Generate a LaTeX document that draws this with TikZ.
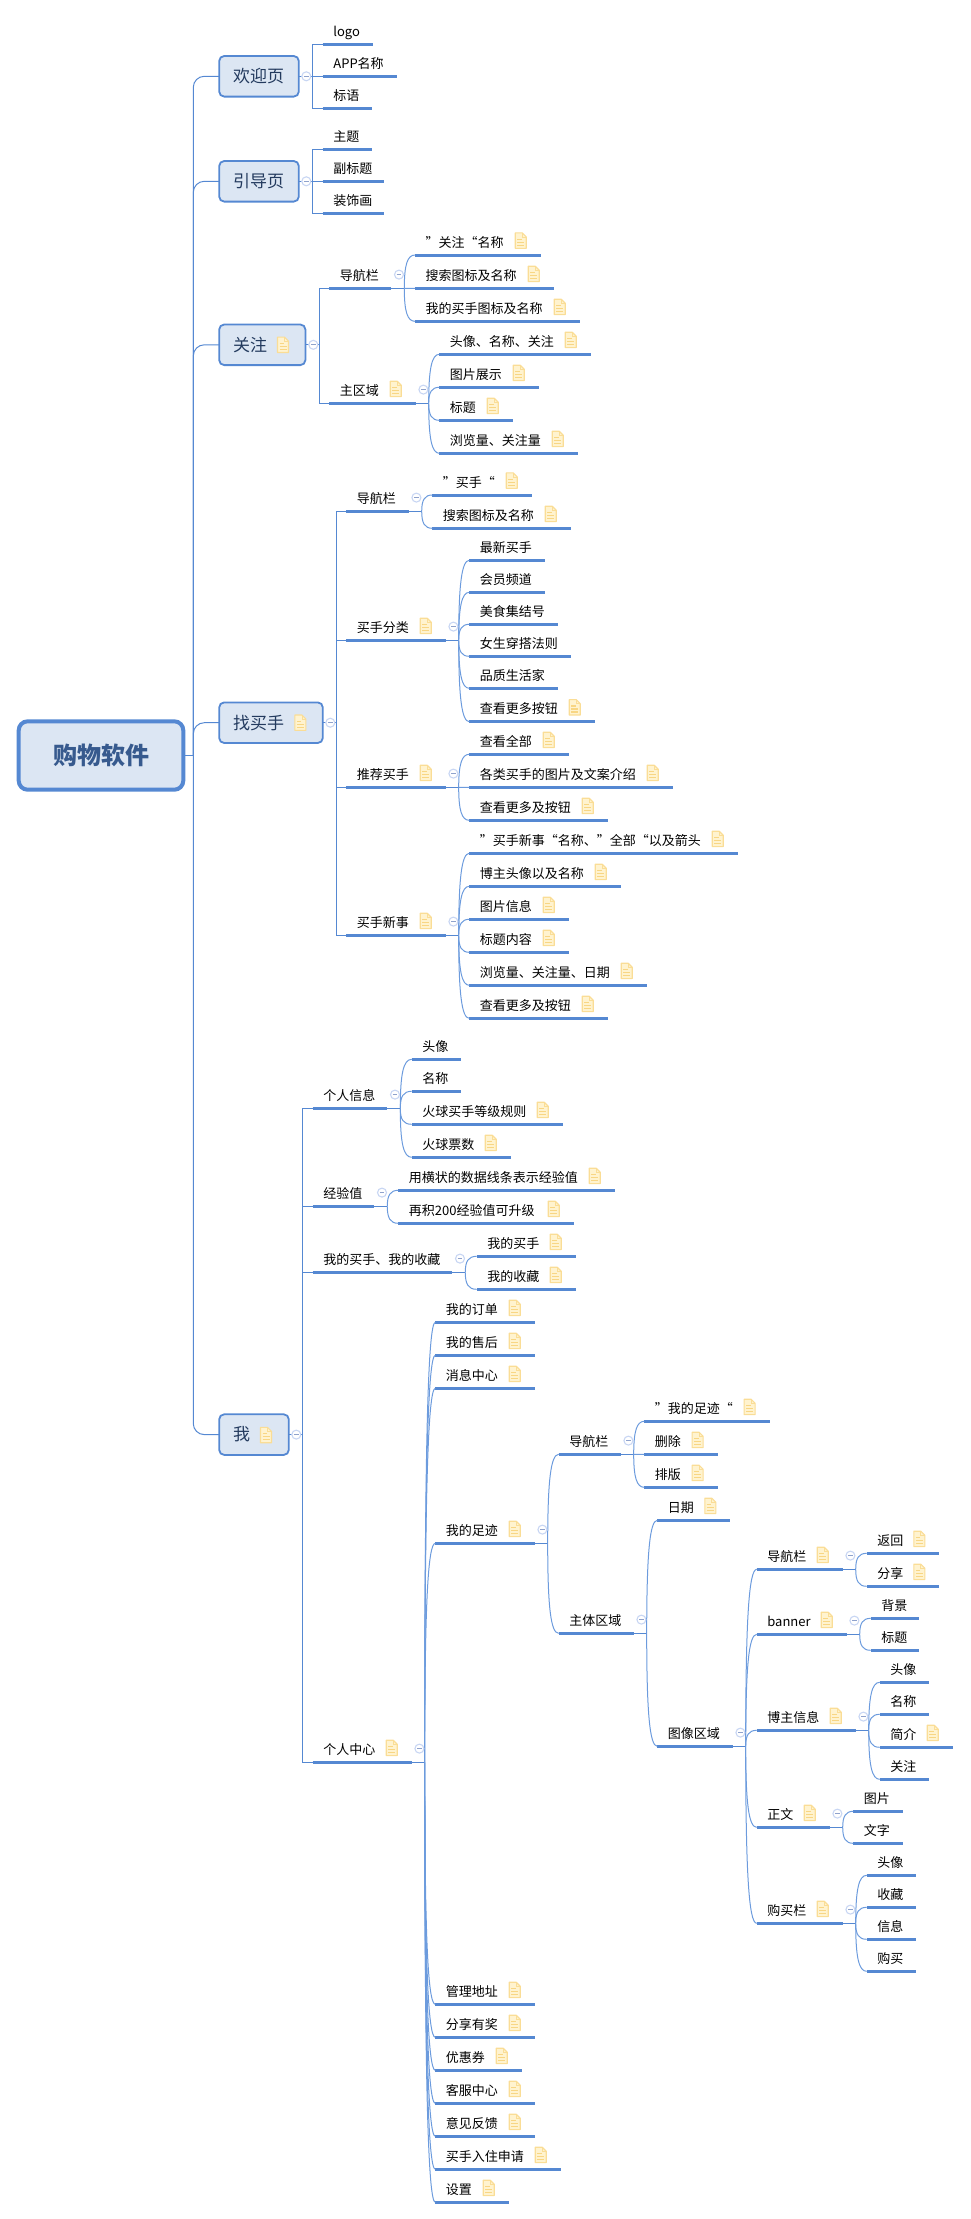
\documentclass[tikz,border=0pt]{standalone}
\usepackage{fontspec}
\setmainfont{Noto Sans CJK SC}
\usetikzlibrary{calc}
\definecolor{mmblue}{HTML}{5588D2}
\definecolor{mmthin}{HTML}{6C9BDD}
\definecolor{mmfill}{HTML}{DCE6F3}
\definecolor{mmroot}{HTML}{375A8E}
\definecolor{mmnavy}{HTML}{233A5E}
\definecolor{notefill}{HTML}{FFF3CF}
\definecolor{noteline}{HTML}{FADD96}
\definecolor{notebar}{HTML}{F8D684}
\definecolor{foldring}{HTML}{C8D6F3}
\definecolor{foldbar}{HTML}{8FA2CC}
\newcommand\ql{\makebox[13pt][l]{”}}
\newcommand\qr{\makebox[13pt][r]{“}}
\tikzset{
  topic/.style={anchor=south west,inner sep=0pt,outer sep=0pt,text height=12pt,text depth=8pt,font=\fontsize{13pt}{15pt}\selectfont,text=black},
  under/.style={draw=mmblue,line width=3pt},
  stem/.style={draw=mmblue,line width=.9pt},
  cv/.style={draw=mmthin,line width=1pt},
  elbow/.style={draw=mmblue,line width=1pt},
  trunk/.style={draw=mmblue,line width=1pt,rounded corners=11pt},
  lvone/.style={anchor=west,draw=mmblue,fill=mmfill,line width=1.8pt,rounded corners=5pt,inner sep=0pt,outer sep=0pt,minimum height=40.6pt,font=\fontsize{17pt}{20pt}\selectfont,text=mmnavy},
  rootnode/.style={draw=mmblue,fill=mmfill,line width=4pt,rounded corners=9pt,inner sep=0pt,outer sep=0pt,minimum width=164.6pt,minimum height=68.4pt,font=\fontsize{24pt}{28pt}\selectfont\bfseries,text=mmroot},
}
% a topic with its underline
\newcommand\Tp[5]{%
  \pgfmathsetlengthmacro\tpw{(#3-#2)*1pt}%
  \node[topic] (#1) at (#2,#4) {\makebox[\tpw][l]{\hspace{10.67pt}#5}};
  \draw[under] (#1.south west) -- (#1.south east);
}
% the note icon, its left end and vertical middle at the point given
\newcommand\NoteAt[1]{%
  \begin{scope}[shift={#1},x=1pt,y=-1pt]
    \draw[fill=notefill,draw=noteline,line width=1.1pt,line join=round] (0.5,-7.7) -- (7.5,-7.7) -- (11.5,-3.7) -- (11.5,7.7) -- (0.5,7.7) -- cycle;
    \draw[draw=noteline,line width=.8pt] (7.5,-7.7) -- (7.5,-3.7) -- (11.5,-3.7);
    \draw[draw=notebar,line width=1.3pt] (2.6,-1.2) -- (7,-1.2) (2.6,1.6) -- (9.5,1.6) (2.6,4.6) -- (9.5,4.6);
  \end{scope}}
\newcommand\TpN[5]{%
  \Tp{#1}{#2}{#3}{#4}{#5}%
  \NoteAt{([xshift=-26pt,yshift=14.4pt]#1.south east)}
}
% collapse mark
\newcommand\FoldAt[1]{%
  \begin{scope}[shift={#1},x=1pt,y=-1pt]
    \draw[fill=white,draw=foldring,line width=1.1pt] (0,0) circle (4.5pt);
    \draw[draw=foldbar,line width=.8pt] (-2.4,0) -- (2.4,0);
  \end{scope}}
\newcommand\Fk[1]{%
  \coordinate (#1-f) at ([xshift=13pt]#1.south east);
  \draw[stem] (#1.south east) -- (#1-f);
}
\newcommand\Fold[1]{\FoldAt{([xshift=7.7pt,yshift=13.7pt]#1.south east)}}
% curved branch
\newcommand\Kids[2]{%
  \Fk{#1}%
  \foreach \cc in {#2}{%
    \draw[cv] let \p1=(#1-f),\p2=(\cc.south west) in (\p1) .. controls ($(\p1)!0.7!(\x1,\y2)$) and (\x1+3pt,\y2) .. (\p2);
  }%
}
\newcommand\Elbows[2]{%
  \foreach \cc in {#2}{\draw[elbow] (#1-f) |- (\cc.south west);}%
}
\newcommand\LvBox[5]{% name, left, right, y, text
  \pgfmathsetlengthmacro\tpw{(#3-#2)*1pt}%
  \node[lvone,minimum width=\tpw] (#1) at (#2,#4) {\makebox[\tpw][l]{\hspace{14pt}#5}};
}
\begin{document}
\begin{tikzpicture}[x=1pt,y=-1pt]
\useasboundingbox (0,0) rectangle (970,2219);

\node[rootnode] (root) at (101,755.5) {购物软件};
\coordinate (rfork) at (193.3,755.5);
\LvBox{a}{219.2}{298.8}{76.3}{欢迎页}
\LvBox{b}{219.2}{298.8}{181.3}{引导页}
\LvBox{c}{219.2}{305.4}{344.8}{关注}
\NoteAt{(277,344.8)}
\LvBox{d}{219.2}{322.8}{722.7}{找买手}
\NoteAt{(294.4,722.7)}
\LvBox{e}{219.2}{288.8}{1434.6}{我}
\NoteAt{(260,1435)}
\draw[stem] (root.east) -- (rfork);
\foreach \cc in {a,b,c,d,e}{\draw[trunk] (rfork) |- (\cc.west);}

% --- 欢迎页
\coordinate (a-f) at (312.3,76.3);
\draw[stem] (a.east) -- (a-f);
\Tp{a1}{322.7}{373.3}{44.3}{logo}
\Tp{a2}{322.7}{396.7}{76.3}{APP名称}
\Tp{a3}{322.7}{372}{108.3}{标语}
\Elbows{a}{a1,a2,a3}
\FoldAt{(306.3,76.3)}

% --- 引导页
\coordinate (b-f) at (312.3,181.3);
\draw[stem] (b.east) -- (b-f);
\Tp{b1}{322.7}{372}{149.7}{主题}
\Tp{b2}{322.7}{384.3}{181.3}{副标题}
\Tp{b3}{322.7}{384.3}{213.3}{装饰画}
\Elbows{b}{b1,b2,b3}
\FoldAt{(306.3,181.3)}

% --- 关注
\coordinate (c-f) at (319.3,344.8);
\draw[stem] (c.east) -- (c-f);
\Tp{c1}{329.3}{391.3}{288.3}{导航栏}
\TpN{c2}{329.3}{415.7}{403.3}{主区域}
\Elbows{c}{c1,c2}
\FoldAt{(313.3,344.8)}
\TpN{c11}{415}{540.7}{255}{\ql 关注\qr 名称}
\TpN{c12}{415}{553.7}{288.3}{搜索图标及名称}
\TpN{c13}{415}{579.7}{321.3}{我的买手图标及名称}
\Kids{c1}{c11,c12,c13}
\Fold{c1}
\TpN{c21}{439.3}{590.7}{354.3}{头像、名称、关注}
\TpN{c22}{439.3}{538.7}{387.3}{图片展示}
\TpN{c23}{439.3}{512.7}{420.3}{标题}
\TpN{c24}{439.3}{577.7}{453.3}{浏览量、关注量}
\Kids{c2}{c21,c22,c23,c24}
\Fold{c2}

% --- 找买手
\coordinate (d-f) at (336.3,722.7);
\draw[stem] (d.east) -- (d-f);
\Tp{d1}{346.3}{408.7}{511.3}{导航栏}
\TpN{d2}{346.3}{445.7}{640.3}{买手分类}
\TpN{d3}{346.3}{445.7}{787.3}{推荐买手}
\TpN{d4}{346.3}{445.7}{935.3}{买手新事}
\Elbows{d}{d1,d2,d3,d4}
\FoldAt{(330.3,722.7)}
\TpN{d11}{432.3}{531.7}{495}{\ql 买手\qr}
\TpN{d12}{432.3}{570.7}{528.3}{搜索图标及名称}
\Kids{d1}{d11,d12}
\Fold{d1}
\Tp{d21}{469.3}{544.7}{560.3}{最新买手}
\Tp{d22}{469.3}{544.7}{592.3}{会员频道}
\Tp{d23}{469.3}{557.7}{624.3}{美食集结号}
\Tp{d24}{469.3}{570.7}{656.3}{女生穿搭法则}
\Tp{d25}{469.3}{557.7}{688.3}{品质生活家}
\TpN{d26}{469.3}{594.7}{721.7}{查看更多按钮}
\Kids{d2}{d21,d22,d23,d24,d25,d26}
\Fold{d2}
\TpN{d31}{469.3}{568.7}{754.3}{查看全部}
\TpN{d32}{469.3}{672.7}{787.3}{各类买手的图片及文案介绍}
\TpN{d33}{469.3}{607.7}{820.3}{查看更多及按钮}
\Kids{d3}{d31,d32,d33}
\Fold{d3}
\TpN{d41}{469.3}{737.7}{853.3}{\ql 买手新事\qr 名称、\ql 全部\qr 以及箭头}
\TpN{d42}{469.3}{620.7}{886.3}{博主头像以及名称}
\TpN{d43}{469.3}{568.7}{919.3}{图片信息}
\TpN{d44}{469.3}{568.7}{952.3}{标题内容}
\TpN{d45}{469.3}{646.7}{985.3}{浏览量、关注量、日期}
\TpN{d46}{469.3}{607.7}{1018.3}{查看更多及按钮}
\Kids{d4}{d41,d42,d43,d44,d45,d46}
\Fold{d4}

% --- 我
\coordinate (e-f) at (302.7,1434.6);
\draw[stem] (e.east) -- (e-f);
\Tp{e1}{312.7}{387.3}{1108.3}{个人信息}
\Tp{e2}{312.7}{374.3}{1206.3}{经验值}
\Tp{e3}{312.7}{452.3}{1272.3}{我的买手、我的收藏}
\TpN{e4}{312.7}{411.7}{1762.3}{个人中心}
\Elbows{e}{e1,e2,e3,e4}
\FoldAt{(296.3,1434.6)}
\Tp{e11}{411.7}{460.7}{1059.3}{头像}
\Tp{e12}{411.7}{460.7}{1091.3}{名称}
\TpN{e13}{411.7}{562.7}{1124.3}{火球买手等级规则}
\TpN{e14}{411.7}{510.7}{1157.3}{火球票数}
\Kids{e1}{e11,e12,e13,e14}
\Fold{e1}
\TpN{e21}{398.3}{614.7}{1190.3}{用横状的数据线条表示经验值}
\TpN{e22}{398.3}{573.7}{1223.3}{再积200经验值可升级}
\Kids{e2}{e21,e22}
\Fold{e2}
\TpN{e31}{476.7}{575.7}{1256.3}{我的买手}
\TpN{e32}{476.7}{575.7}{1289.3}{我的收藏}
\Kids{e3}{e31,e32}
\Fold{e3}
% 个人中心
\TpN{f1}{435.3}{534.7}{1322.3}{我的订单}
\TpN{f2}{435.3}{534.7}{1355.3}{我的售后}
\TpN{f3}{435.3}{534.7}{1388.3}{消息中心}
\TpN{f4}{435.3}{534.7}{1543.3}{我的足迹}
\TpN{f5}{435.3}{534.7}{2004.3}{管理地址}
\TpN{f6}{435.3}{534.7}{2037.3}{分享有奖}
\TpN{f7}{435.3}{521.7}{2070.3}{优惠券}
\TpN{f8}{435.3}{534.7}{2103.3}{客服中心}
\TpN{f9}{435.3}{534.7}{2136.3}{意见反馈}
\TpN{f10}{435.3}{560.7}{2169.3}{买手入住申请}
\TpN{f11}{435.3}{508.7}{2202.3}{设置}
\Kids{e4}{f1,f2,f3,f4,f5,f6,f7,f8,f9,f10,f11}
\Fold{e4}
% 我的足迹
\Tp{g1}{558.7}{620.7}{1454.3}{导航栏}
\Tp{g2}{558.7}{633.7}{1633.3}{主体区域}
\Kids{f4}{g1,g2}
\Fold{f4}
\TpN{g11}{644.3}{769.6}{1421.3}{\ql 我的足迹\qr}
\TpN{g12}{644.3}{717.6}{1454.3}{删除}
\TpN{g13}{644.3}{717.6}{1487.3}{排版}
\Kids{g1}{g11,g12,g13}
\Fold{g1}
\TpN{h1}{657.3}{730.3}{1520.3}{日期}
\Tp{h2}{657.3}{732.7}{1746.3}{图像区域}
\Kids{g2}{h1,h2}
\Fold{g2}
\TpN{i1}{756.7}{842.7}{1569.3}{导航栏}
\TpN{i2}{756.7}{846.7}{1634.3}{banner}
\TpN{i3}{756.7}{855.7}{1730.3}{博主信息}
\TpN{i4}{756.7}{829.7}{1827.3}{正文}
\TpN{i5}{756.7}{842.7}{1923.3}{购买栏}
\Kids{h2}{i1,i2,i3,i4,i5}
\Fold{h2}
\TpN{i11}{866.7}{939.3}{1553.3}{返回}
\TpN{i12}{866.7}{939.3}{1586.3}{分享}
\Kids{i1}{i11,i12}
\Fold{i1}
\Tp{i21}{870.7}{919.3}{1618.3}{背景}
\Tp{i22}{870.7}{919.3}{1650.3}{标题}
\Kids{i2}{i21,i22}
\Fold{i2}
\Tp{i31}{879.7}{928.7}{1682.3}{头像}
\Tp{i32}{879.7}{928.7}{1714.3}{名称}
\TpN{i33}{879.7}{952.7}{1747.3}{简介}
\Tp{i34}{879.7}{928.7}{1779.3}{关注}
\Kids{i3}{i31,i32,i33,i34}
\Fold{i3}
\Tp{i41}{853.3}{902.7}{1811.3}{图片}
\Tp{i42}{853.3}{902.7}{1843.3}{文字}
\Kids{i4}{i41,i42}
\Fold{i4}
\Tp{i51}{866.7}{915.7}{1875.3}{头像}
\Tp{i52}{866.7}{915.7}{1907.3}{收藏}
\Tp{i53}{866.7}{915.7}{1939.3}{信息}
\Tp{i54}{866.7}{915.7}{1971.3}{购买}
\Kids{i5}{i51,i52,i53,i54}
\Fold{i5}
\end{tikzpicture}
\end{document}
